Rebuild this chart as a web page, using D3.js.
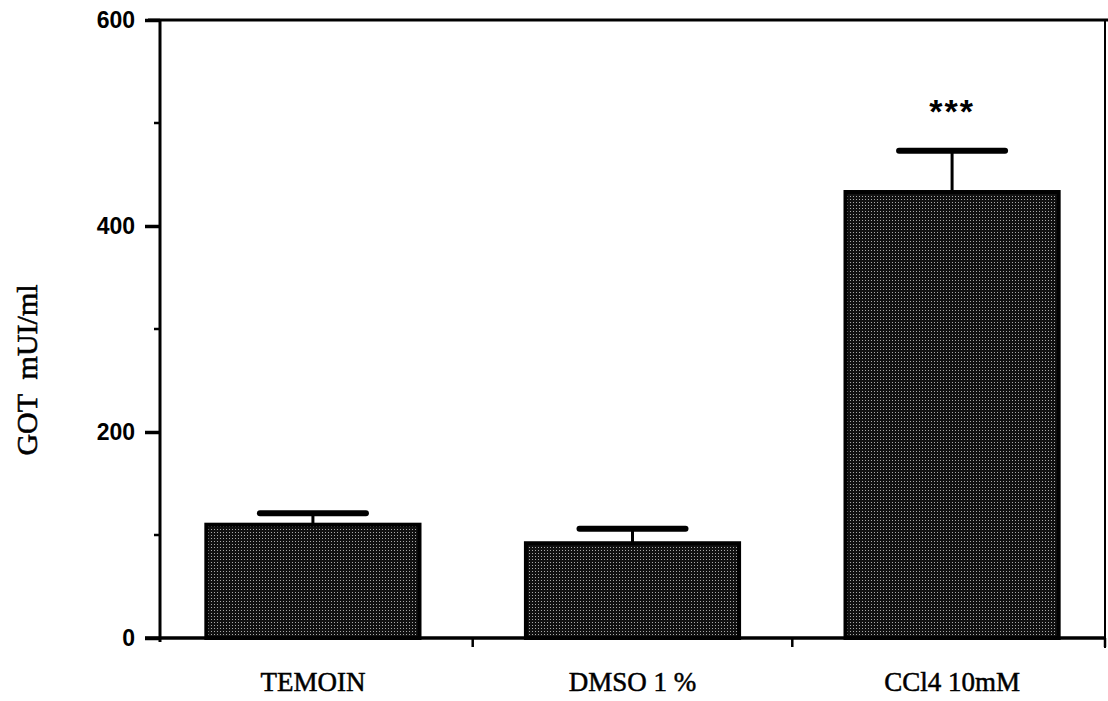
<!DOCTYPE html>
<html>
<head>
<meta charset="utf-8">
<script src="https://cdn.jsdelivr.net/npm/d3@7"></script>
<style>
  body { margin: 0; background: #fff; }
</style>
</head>
<body>
<div id="chart"></div>
<script>
var categories = ["TEMOIN", "DMSO 1 %", "CCl4 10mM"];
var means = [110, 92, 433];
var errors = [11, 14, 40];
var marks = ["", "", "***"];
var yTicks = [0, 200, 400, 600];
var yMinorTicks = [100, 300, 500];

var width = 1108;
var height = 701;
var margin = { top: 20, right: 3, bottom: 63, left: 160 };

var svg = d3.select("#chart").append("svg")
  .attr("width", width)
  .attr("height", height);

// stippled fill like the scanned bars
var defs = svg.append("defs");
var pat = defs.append("pattern")
  .attr("id", "stipple")
  .attr("width", 3)
  .attr("height", 3)
  .attr("patternUnits", "userSpaceOnUse");
pat.append("rect").attr("width", 3).attr("height", 3).attr("fill", "#111");
pat.append("rect").attr("x", 1).attr("y", 1).attr("width", 1).attr("height", 1).attr("fill", "#a8a8a8");

var x = d3.scaleBand()
  .domain(categories)
  .range([margin.left, width - margin.right])
  .paddingInner(0.333)
  .paddingOuter(0.145)
  .align(0.5);

var y = d3.scaleLinear()
  .domain([0, 600])
  .range([height - margin.bottom, margin.top]);

var data = categories.map((c, i) => ({ name: c, mean: means[i], err: errors[i], mark: marks[i] }));

// bars
svg.append("g")
  .selectAll("rect")
  .data(data)
  .enter()
  .append("rect")
  .attr("x", d => x(d.name))
  .attr("y", d => y(d.mean))
  .attr("width", x.bandwidth())
  .attr("height", d => y(0) - y(d.mean))
  .attr("fill", "url(#stipple)")
  .attr("stroke", "#000")
  .attr("stroke-width", 4);

// error bars
var eb = svg.append("g").selectAll("g")
  .data(data)
  .enter()
  .append("g");

eb.append("line")
  .attr("x1", d => x(d.name) + x.bandwidth() / 2)
  .attr("x2", d => x(d.name) + x.bandwidth() / 2)
  .attr("y1", d => y(d.mean))
  .attr("y2", d => y(d.mean + d.err))
  .attr("stroke", "#000")
  .attr("stroke-width", 3);

eb.append("line")
  .attr("x1", d => x(d.name) + x.bandwidth() / 2 - 53)
  .attr("x2", d => x(d.name) + x.bandwidth() / 2 + 53)
  .attr("y1", d => y(d.mean + d.err))
  .attr("y2", d => y(d.mean + d.err))
  .attr("stroke", "#000")
  .attr("stroke-width", 6)
  .attr("stroke-linecap", "round");

eb.append("text")
  .attr("x", d => x(d.name) + x.bandwidth() / 2)
  .attr("y", d => y(d.mean + d.err) - 28)
  .attr("text-anchor", "middle")
  .attr("font-family", "Liberation Sans, Arial, sans-serif")
  .attr("font-weight", "bold")
  .attr("font-size", 34)
  .attr("letter-spacing", 2)
  .text(d => d.mark);

// frame: top line and right line
svg.append("line")
  .attr("x1", margin.left - 12).attr("x2", width)
  .attr("y1", y(600)).attr("y2", y(600))
  .attr("stroke", "#000").attr("stroke-width", 3);

svg.append("line")
  .attr("x1", width - margin.right).attr("x2", width - margin.right)
  .attr("y1", y(600)).attr("y2", y(0) + 10)
  .attr("stroke", "#000").attr("stroke-width", 2);

// y axis
var yAxis = svg.append("g")
  .attr("transform", "translate(" + margin.left + ",0)")
  .call(d3.axisLeft(y).tickValues(yTicks).tickSize(15).tickPadding(10).tickFormat(d3.format("d")));
yAxis.attr("font-size", null).attr("font-family", null);
yAxis.select(".domain").attr("stroke-width", 3).attr("d", "M0," + y(600) + "V" + (y(0) + 4));
yAxis.selectAll(".tick line").attr("stroke-width", 3.5);
yAxis.selectAll("text")
  .attr("font-family", "Liberation Sans, Arial, sans-serif")
  .attr("font-weight", "bold")
  .attr("font-size", 23)
  .attr("fill", "#000");

svg.append("g")
  .selectAll("line")
  .data(yMinorTicks)
  .enter()
  .append("line")
  .attr("x1", margin.left - 6).attr("x2", margin.left)
  .attr("y1", d => y(d)).attr("y2", d => y(d))
  .attr("stroke", "#000").attr("stroke-width", 2.5);

// x axis
svg.append("line")
  .attr("x1", margin.left - 15).attr("x2", width - margin.right)
  .attr("y1", y(0)).attr("y2", y(0))
  .attr("stroke", "#000").attr("stroke-width", 3.5);

var bounds = categories.slice(1).map(c => x(c) - x.step() * x.paddingInner() / 2);
bounds.push(width - margin.right);
svg.append("g")
  .selectAll("line")
  .data(bounds)
  .enter()
  .append("line")
  .attr("x1", d => d).attr("x2", d => d)
  .attr("y1", y(0)).attr("y2", y(0) + 9)
  .attr("stroke", "#000").attr("stroke-width", 2.5);

svg.append("g")
  .selectAll("text")
  .data(categories)
  .enter()
  .append("text")
  .attr("x", d => x(d) + x.bandwidth() / 2)
  .attr("y", 691)
  .attr("text-anchor", "middle")
  .attr("font-family", "Liberation Serif, Times New Roman, serif")
  .attr("font-size", 27)
  .attr("fill", "#000")
  .attr("stroke", "#000")
  .attr("stroke-width", 0.5)
  .text(d => d);

// y axis title
svg.append("text")
  .attr("transform", "translate(37,370) rotate(-90)")
  .attr("text-anchor", "middle")
  .attr("font-family", "Liberation Serif, Times New Roman, serif")
  .attr("font-size", 30)
  .attr("fill", "#000")
  .attr("stroke", "#000")
  .attr("stroke-width", 0.6)
  .attr("xml:space", "preserve")
  .text("GOT  mUI/ml");
</script>
</body>
</html>
